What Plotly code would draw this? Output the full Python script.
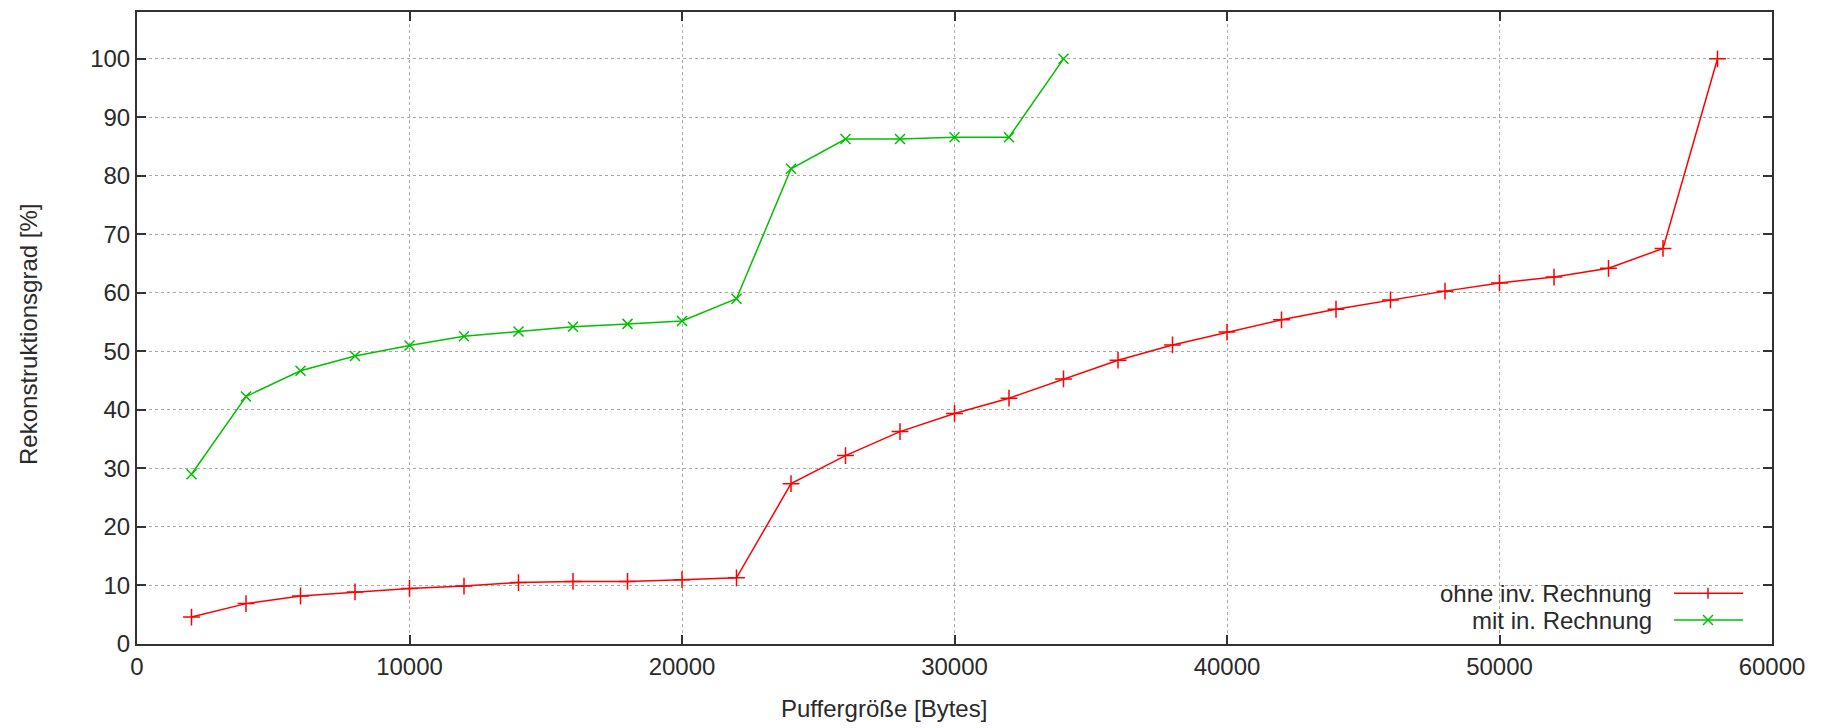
import plotly.graph_objects as go

# ---- data ----
puffer_ohne = [2000, 4000, 6000, 8000, 10000, 12000, 14000, 16000, 18000, 20000,
               22000, 24000, 26000, 28000, 30000, 32000, 34000, 36000, 38000, 40000,
               42000, 44000, 46000, 48000, 50000, 52000, 54000, 56000, 58000]
grad_ohne = [4.6, 6.9, 8.2, 8.9, 9.5, 9.9, 10.5, 10.7, 10.7, 11.0,
             11.3, 27.4, 32.2, 36.3, 39.4, 42.0, 45.3, 48.5, 51.1, 53.3,
             55.4, 57.2, 58.8, 60.3, 61.7, 62.7, 64.2, 67.6, 100.0]

puffer_mit = [2000, 4000, 6000, 8000, 10000, 12000, 14000, 16000, 18000, 20000,
              22000, 24000, 26000, 28000, 30000, 32000, 34000]
grad_mit = [29.0, 42.3, 46.7, 49.2, 51.0, 52.6, 53.4, 54.2, 54.7, 55.2,
            59.0, 81.2, 86.3, 86.3, 86.6, 86.6, 100.0]

series_names = ["ohne inv. Rechnung", "mit in. Rechnung"]
series_colors = ["#ff0000", "#00c000"]
x_ticks = [0, 10000, 20000, 30000, 40000, 50000, 60000]
y_ticks = [0, 10, 20, 30, 40, 50, 60, 70, 80, 90, 100]
x_title = "Puffergröße [Bytes]"
y_title = "Rekonstruktionsgrad [%]"

FONT = "Liberation Sans, Arial, sans-serif"
FS = 24
TXT = "#2a2a2a"

W, H = 1823, 728
ML, MR, MT, MB = 137, 51, 10, 84
PW, PH = W - ML - MR, H - MT - MB

fig = go.Figure()
fig.add_trace(go.Scatter(
    x=puffer_ohne, y=grad_ohne, mode="lines+markers", name=series_names[0],
    line=dict(color=series_colors[0], width=1.5),
    marker=dict(symbol="cross-thin", size=12, line=dict(color=series_colors[0], width=1.5)),
    showlegend=False))
fig.add_trace(go.Scatter(
    x=puffer_mit, y=grad_mit, mode="lines+markers", name=series_names[1],
    line=dict(color=series_colors[1], width=1.5),
    marker=dict(symbol="x-thin", size=10, line=dict(color=series_colors[1], width=1.5)),
    showlegend=False))

def px_to_paper(px, py):
    return (px - ML) / PW, (H - MB - py) / PH

shapes = []
annotations = []

# white key box (hides grid beneath the key, like gnuplot)
bx0, by0 = px_to_paper(1389, 580)
bx1, by1 = px_to_paper(1768, 642)
shapes.append(dict(type="rect", xref="paper", yref="paper", x0=bx0, x1=bx1, y0=by1, y1=by0,
                   fillcolor="white", line=dict(width=0), layer="between"))

# custom key: text right-aligned, sample to the right
rows_py = [593, 620]
for i, py in enumerate(rows_py):
    tx, ty = px_to_paper(1654, py)
    annotations.append(dict(text=series_names[i], xref="paper", yref="paper", x=tx, y=ty,
                            xanchor="right", yanchor="middle", showarrow=False,
                            font=dict(family=FONT, size=FS, color=TXT)))
    lx0, ly = px_to_paper(1674, py)
    lx1, _ = px_to_paper(1743, py)
    shapes.append(dict(type="line", xref="paper", yref="paper", x0=lx0, x1=lx1, y0=ly, y1=ly,
                       line=dict(color=series_colors[i], width=1.5), layer="above"))
    d = 5.5
    if i == 0:
        a0 = px_to_paper(1708, py - d); a1 = px_to_paper(1708, py + d)
        shapes.append(dict(type="line", xref="paper", yref="paper", x0=a0[0], x1=a1[0], y0=a0[1], y1=a1[1],
                           line=dict(color=series_colors[i], width=1.5), layer="above"))
    else:
        a0 = px_to_paper(1708 - 5, py - 5); a1 = px_to_paper(1708 + 5, py + 5)
        b0 = px_to_paper(1708 - 5, py + 5); b1 = px_to_paper(1708 + 5, py - 5)
        shapes.append(dict(type="line", xref="paper", yref="paper", x0=a0[0], x1=a1[0], y0=a0[1], y1=a1[1],
                           line=dict(color=series_colors[i], width=1.5), layer="above"))
        shapes.append(dict(type="line", xref="paper", yref="paper", x0=b0[0], x1=b1[0], y0=b0[1], y1=b1[1],
                           line=dict(color=series_colors[i], width=1.5), layer="above"))

# axis titles
xtx, xty = px_to_paper(884, 709)
annotations.append(dict(text=x_title, xref="paper", yref="paper", x=xtx, y=xty,
                        xanchor="center", yanchor="middle", showarrow=False,
                        font=dict(family=FONT, size=FS, color=TXT)))
ytx, yty = px_to_paper(29, 334)
annotations.append(dict(text=y_title, xref="paper", yref="paper", x=ytx, y=yty, textangle=-90,
                        xanchor="center", yanchor="middle", showarrow=False,
                        font=dict(family=FONT, size=FS, color=TXT)))

axis_common = dict(showline=True, linecolor="#333333", linewidth=2, mirror="ticks",
                   ticks="inside", ticklen=9, tickwidth=2, tickcolor="#333333",
                   showgrid=True, gridcolor="#a8a8a8", griddash="dot", gridwidth=1,
                   zeroline=False, tickfont=dict(family=FONT, size=FS, color=TXT))

fig.update_xaxes(range=[0, 60000], tickvals=x_ticks, ticktext=[str(v) for v in x_ticks], **axis_common)
fig.update_yaxes(range=[0, 108], tickvals=y_ticks, ticktext=[str(v) for v in y_ticks], **axis_common)

fig.update_layout(width=W, height=H, margin=dict(l=ML, r=MR, t=MT, b=MB, pad=0),
                  paper_bgcolor="white", plot_bgcolor="white",
                  shapes=shapes, annotations=annotations, showlegend=False,
                  font=dict(family=FONT, size=FS, color=TXT))

fig.write_html("out.html", config={"displayModeBar": False},
               post_script="document.body.style.margin='0px';document.body.style.overflow='hidden';")
